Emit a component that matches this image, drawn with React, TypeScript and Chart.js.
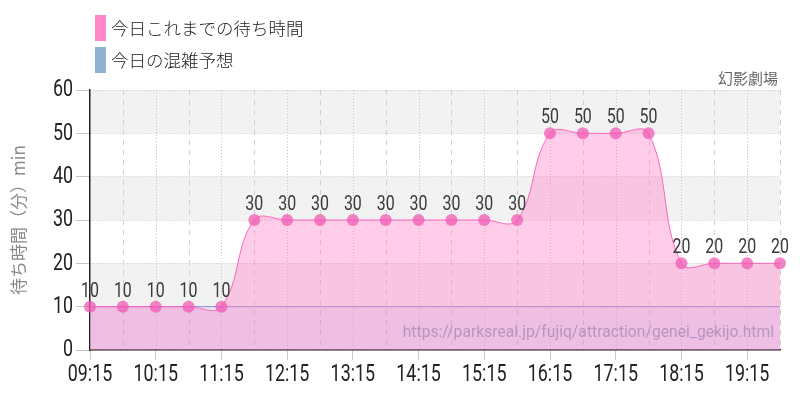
import React, { useEffect, useRef } from "react";
import { Chart, registerables } from "chart.js";

Chart.register(...registerables);

const timeLabels = [
  "09:15", "09:45", "10:15", "10:45", "11:15", "11:45", "12:15", "12:45",
  "13:15", "13:45", "14:15", "14:45", "15:15", "15:45", "16:15", "16:45",
  "17:15", "17:45", "18:15", "18:45", "19:15", "19:45",
];
const actualWait = [10, 10, 10, 10, 10, 30, 30, 30, 30, 30, 30, 30, 30, 30, 50, 50, 50, 50, 20, 20, 20, 20];
const predictedWait = [10, 10, 10, 10, 10, 10, 10, 10, 10, 10, 10, 10, 10, 10, 10, 10, 10, 10, 10, 10, 10, 10];
const legendLabels = ["今日これまでの待ち時間", "今日の混雑予想"];
const legendColors = ["#ff88c8", "#8fb3d0"];
const attractionName = "幻影劇場";
const yAxisTitle = "待ち時間（分）min";
const sourceUrl = "https://parksreal.jp/fujiq/attraction/genei_gekijo.html";

const NUM_FONT = "Roboto, sans-serif";
const JP_FONT = "'Noto Sans CJK JP', 'Noto Sans', sans-serif";
const SQUEEZE = 0.76;

function condensedText(ctx: any, text: string, x: number, y: number, size: number, align: string) {
  ctx.save();
  ctx.font = size + "px " + NUM_FONT;
  ctx.textAlign = align;
  ctx.translate(x, y);
  ctx.scale(SQUEEZE, 1);
  ctx.fillText(text, 0, 0);
  ctx.restore();
}

export default function App() {
  const ref = useRef<HTMLCanvasElement | null>(null);
  useEffect(() => {
    document.body.style.margin = "0";
    const canvas = ref.current;
    if (!canvas) return;

    const bandsPlugin = {
      id: "bands",
      beforeDraw(chart: any) {
        const { ctx, chartArea } = chart;
        const y = chart.scales.y;
        ctx.save();
        ctx.fillStyle = "#ffffff";
        ctx.fillRect(chartArea.left, chartArea.top, chartArea.right - chartArea.left, chartArea.bottom - chartArea.top);
        ctx.fillStyle = "#f2f2f2";
        for (const lo of [10, 30, 50]) {
          const y1 = y.getPixelForValue(lo + 10);
          const y0 = y.getPixelForValue(lo);
          ctx.fillRect(chartArea.left, y1, chartArea.right - chartArea.left, y0 - y1);
        }
        ctx.restore();
      },
      beforeDatasetsDraw(chart: any) {
        const { ctx, chartArea } = chart;
        const x = chart.scales.x;
        ctx.save();
        ctx.lineWidth = 1;
        timeLabels.forEach((_, i) => {
          if (i === 0) return;
          const px = Math.round(x.getPixelForValue(i)) + 0.5;
          if (i % 2 === 0) {
            ctx.strokeStyle = "#c4c4c4";
            ctx.setLineDash([1, 2]);
          } else {
            ctx.strokeStyle = "#d0d0d0";
            ctx.setLineDash([5, 5]);
          }
          ctx.beginPath();
          ctx.moveTo(px, chartArea.top);
          ctx.lineTo(px, chartArea.bottom);
          ctx.stroke();
        });
        ctx.restore();
      },
    };

    const overlayPlugin = {
      id: "overlay",
      afterDatasetsDraw(chart: any) {
        const { ctx, chartArea } = chart;
        ctx.save();
        ctx.font = "15.7px Roboto, sans-serif";
        ctx.fillStyle = "rgba(110,100,150,0.45)";
        ctx.textAlign = "right";
        ctx.textBaseline = "middle";
        ctx.fillText(sourceUrl, chartArea.right - 6, chartArea.bottom - 17);
        const meta = chart.getDatasetMeta(0);
        ctx.fillStyle = "#3a3a3a";
        ctx.textBaseline = "alphabetic";
        meta.data.forEach((pt: any, i: number) => {
          condensedText(ctx, String(actualWait[i]), pt.x, pt.y - 10, 21, "center");
        });
        ctx.restore();
      },
      afterDraw(chart: any) {
        const { ctx, chartArea } = chart;
        const xs = chart.scales.x;
        const ys = chart.scales.y;
        ctx.save();
        ctx.fillStyle = "#222";
        ctx.textBaseline = "middle";
        ys.ticks.forEach((t: any) => {
          condensedText(ctx, String(t.value), ys.right - 17, ys.getPixelForValue(t.value) + 0.5, 23.5, "right");
        });
        xs.ticks.forEach((t: any, i: number) => {
          const lab = i % 2 === 0 ? timeLabels[t.value] : "";
          if (lab) condensedText(ctx, lab, xs.getPixelForValue(t.value), chartArea.bottom + 25.5, 23.5, "center");
        });
        legendLabels.forEach((lab, i) => {
          const top = 15 + i * 32;
          ctx.fillStyle = legendColors[i];
          ctx.fillRect(95, top, 11, 26);
          ctx.fillStyle = "#222";
          ctx.font = "300 17.5px " + JP_FONT;
          ctx.textAlign = "left";
          ctx.textBaseline = "middle";
          ctx.fillText(lab, 111, top + 13);
        });
        ctx.font = "15px " + JP_FONT;
        ctx.fillStyle = "#666";
        ctx.textAlign = "right";
        ctx.textBaseline = "middle";
        ctx.fillText(attractionName, chartArea.right - 2, 78);
        ctx.restore();
      },
    };

    const chart = new Chart(canvas, {
      type: "line",
      data: {
        labels: timeLabels,
        datasets: [
          {
            label: legendLabels[0],
            data: actualWait,
            borderColor: "rgba(255,90,180,0.9)",
            borderWidth: 1,
            backgroundColor: "rgba(255,130,200,0.4)",
            fill: "origin",
            tension: 0.4,
            pointRadius: 6,
            pointBorderWidth: 0,
            pointBackgroundColor: "rgba(240,90,180,0.75)",
          },
          {
            label: legendLabels[1],
            data: predictedWait,
            borderColor: "rgba(110,120,200,0.8)",
            borderWidth: 1,
            backgroundColor: "rgba(150,160,215,0.25)",
            fill: "origin",
            tension: 0.4,
            pointRadius: 0,
          },
        ],
      },
      options: {
        animation: false,
        responsive: false,
        layout: { padding: { top: 90, right: 20, left: 8, bottom: 0 } },
        plugins: { legend: { display: false }, tooltip: { enabled: false } },
        scales: {
          x: {
            border: { color: "#222", width: 1.5 },
            grid: {
              drawOnChartArea: false,
              tickColor: (c: any) => (c.index % 2 === 0 ? "#c8c8c8" : "rgba(0,0,0,0)"),
              tickLength: 10,
            },
            afterFit: (s: any) => { s.height = 50; },
            ticks: {
              autoSkip: false,
              maxRotation: 0,
              color: "rgba(0,0,0,0)",
              font: { family: NUM_FONT, size: 12 },
              padding: 4,
              callback: (v: any, i: number) => (i % 2 === 0 ? timeLabels[i] : ""),
            },
          },
          y: {
            min: 0,
            max: 60,
            border: { color: "#222", width: 1.5, dash: [1, 2] },
            grid: { color: "#c4c4c4", tickLength: 14 },
            afterFit: (s: any) => { s.width = 82; },
            ticks: {
              stepSize: 10,
              color: "rgba(0,0,0,0)",
              font: { family: NUM_FONT, size: 12 },
              padding: 4,
            },
            title: {
              display: true,
              text: yAxisTitle,
              color: "#888",
              font: { family: JP_FONT, size: 17 },
              padding: { top: 0, bottom: 12 },
            },
          },
        },
      },
      plugins: [bandsPlugin, overlayPlugin],
    } as any);

    return () => chart.destroy();
  }, []);
  return (
    <div style={{ width: 800, height: 400 }}>
      <canvas ref={ref} width={800} height={400} style={{ width: 800, height: 400 }} />
    </div>
  );
}
